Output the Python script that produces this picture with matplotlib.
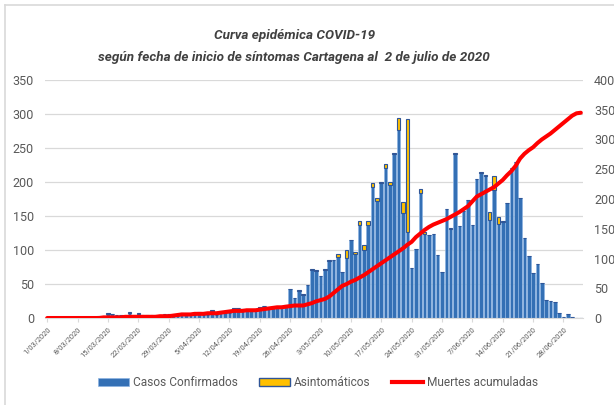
import numpy as np
import matplotlib
matplotlib.use("Agg")
import matplotlib.pyplot as plt
from matplotlib import font_manager as fm
from matplotlib.patches import Patch
from matplotlib.lines import Line2D
import pandas as pd

avail = {f.name for f in fm.fontManager.ttflist}
FONT = "Liberation Sans Narrow" if "Liberation Sans Narrow" in avail else "Roboto"
plt.rcParams['font.family'] = [FONT, 'DejaVu Sans']

# ---------------- data ----------------
dates = pd.date_range("2020-03-01", "2020-07-02", freq="D")

confirmados = [
    0, 0, 0, 0, 0, 1, 0, 0, 0, 0,
    0, 0, 3, 3, 6, 6, 4, 4, 2, 8,
    4, 6, 4, 4, 4, 4, 4, 6, 6, 3,
    3, 7, 4, 4, 4, 9, 5, 4, 10, 5,
    11, 7, 8, 13, 14, 13, 13, 12, 13, 15,
    17, 13, 14, 16, 18, 19, 42, 29, 40, 34,
    49, 71, 69, 62, 71, 84, 85, 90, 67, 88,
    114, 94, 137, 100, 137, 193, 172, 198, 221, 195,
    241, 276, 154, 126, 73, 101, 184, 124, 122, 123,
    93, 68, 161, 131, 241, 135, 158, 173, 137, 204,
    213, 209, 144, 188, 138, 141, 169, 220, 229, 177,
    117, 91, 66, 79, 51, 26, 25, 24, 8, 2,
    6, 1, 0, 0,
]
asintomaticos = [
    0, 0, 0, 0, 0, 0, 0, 0, 0, 0,
    0, 0, 0, 0, 1, 0, 0, 0, 0, 1,
    0, 1, 0, 0, 0, 0, 0, 0, 0, 0,
    0, 0, 0, 0, 0, 0, 0, 0, 2, 0,
    0, 0, 0, 1, 0, 0, 0, 0, 0, 1,
    1, 0, 0, 0, 0, 0, 1, 0, 1, 1,
    0, 1, 1, 0, 1, 1, 0, 4, 0, 12,
    1, 3, 5, 7, 5, 5, 4, 2, 5, 5,
    2, 18, 16, 166, 0, 0, 6, 3, 0, 0,
    0, 0, 0, 1, 1, 0, 0, 0, 0, 1,
    1, 1, 12, 21, 11, 1, 0, 0, 0, 0,
    0, 0, 0, 0, 0, 0, 0, 0, 0, 0,
    0, 0, 0, 0,
]
muertes = [
    0, 0, 0, 0, 0, 0, 0, 0, 0, 0,
    0, 0, 0, 1, 1, 1, 1, 1, 2, 2,
    2, 2, 2, 2, 2, 2, 3, 3, 3, 4,
    5, 6, 6, 6, 7, 7, 7, 8, 8, 8,
    9, 10, 11, 12, 12, 12, 13, 13, 13, 14,
    15, 16, 17, 18, 18, 19, 20, 21, 21, 21,
    23, 25, 28, 30, 32, 36, 42, 48, 54, 57,
    61, 64, 68, 72, 77, 82, 87, 92, 97, 102,
    107, 112, 117, 123, 128, 136, 142, 148, 153, 157,
    160, 163, 166, 170, 174, 178, 183, 188, 196, 204,
    208, 212, 216, 220, 226, 232, 240, 247, 256, 268,
    276, 282, 287, 294, 300, 305, 310, 316, 322, 328,
    334, 340, 344, 345,
]
tick_labels = ["1/03/2020", "8/03/2020", "15/03/2020", "22/03/2020", "29/03/2020",
               "5/04/2020", "12/04/2020", "19/04/2020", "26/04/2020", "3/05/2020",
               "10/05/2020", "17/05/2020", "24/05/2020", "31/05/2020", "7/06/2020",
               "14/06/2020", "21/06/2020", "28/06/2020"]

title_lines = ["Curva epidémica COVID-19",
               "según fecha de inicio de síntomas Cartagena al  2 de julio de 2020"]

# ---------------- figure ----------------
W, H = 614, 405
fig = plt.figure(figsize=(W / 100, H / 100), dpi=100)
ax = fig.add_axes([45 / W, 1 - 318 / H, 538 / W, 238 / H])

x = np.arange(len(dates))
BLUE = "#3470B5"
ax.bar(x, confirmados, width=0.82, color=BLUE, edgecolor="#8DB4E2", linewidth=0.5, zorder=2)
ax.bar(x, asintomaticos, bottom=confirmados, width=0.82, color="#FFC000",
       edgecolor="#2F5597", linewidth=0.8, zorder=2)

ax.set_xlim(-0.5, len(dates) - 0.5)
ax.set_ylim(0, 350)
ax.set_yticks(range(0, 351, 50))
ax.grid(axis="y", color="#D9D9D9", linewidth=0.9, zorder=0)
ax.set_axisbelow(True)
for s in ["top", "right", "left"]:
    ax.spines[s].set_visible(False)
ax.spines["bottom"].set_color("#D9D9D9")
ax.tick_params(axis="y", length=0, labelsize=9, labelcolor="#595959", pad=8)
ax.set_xticks(x[::7])
ax.set_xticklabels(tick_labels, rotation=45, ha="right", rotation_mode="anchor",
                   fontsize=5.4, color="#595959")
ax.tick_params(axis="x", length=3, color="#D9D9D9", pad=3)

ax2 = ax.twinx()
ax2.plot(x, muertes, color="#FF0000", linewidth=2.9, solid_capstyle="round", zorder=3)
ax2.set_ylim(0, 400)
ax2.set_yticks(range(0, 401, 50))
for s in ["top", "right", "left", "bottom"]:
    ax2.spines[s].set_visible(False)
ax2.tick_params(axis="y", length=0, labelsize=9, labelcolor="#595959", pad=8)

fig.text(295 / W, 1 - 36 / H, title_lines[0], ha="center", va="center",
         fontsize=9.7, fontstyle="italic", fontweight="bold", color="#404040")
fig.text(294 / W, 1 - 58 / H, title_lines[1], ha="center", va="center",
         fontsize=9.7, fontstyle="italic", fontweight="bold", color="#404040")

handles = [Patch(facecolor=BLUE, edgecolor="#8DB4E2", linewidth=0.5),
           Patch(facecolor="#FFC000", edgecolor="#2F5597", linewidth=1.0),
           Line2D([0], [0], color="#FF0000", linewidth=3)]
fig.legend(handles, ["Casos Confirmados", "Asintomáticos", "Muertes acumuladas"],
           loc="center", bbox_to_anchor=(318 / W, 1 - 383 / H), ncol=3, frameon=False,
           fontsize=8.6, labelcolor="#595959", handlelength=2.6, handleheight=0.6,
           columnspacing=1.8, handletextpad=0.3)

# chart area border (top and left visible)
fig.add_artist(Line2D([5 / W, 1], [1 - 5 / H, 1 - 5 / H], color="#D9D9D9", linewidth=1.2))
fig.add_artist(Line2D([5 / W, 5 / W], [0, 1 - 5 / H], color="#D9D9D9", linewidth=1.2))

fig.savefig("out.png", dpi=100)
